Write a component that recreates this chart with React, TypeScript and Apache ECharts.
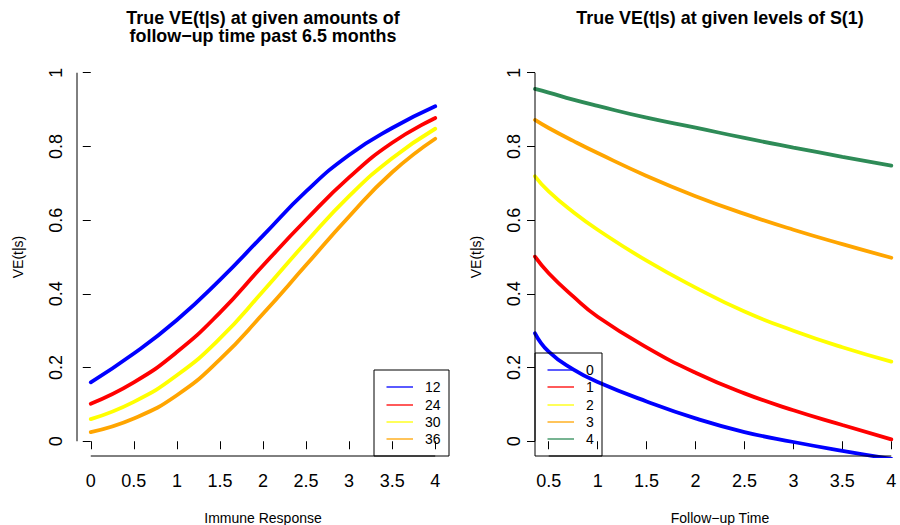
import { useEffect, useRef } from "react";
import * as echarts from "echarts";

const FONT = "'Liberation Sans', Arial, Helvetica, sans-serif";

// Left panel: VE(t|s) against immune response, one curve per follow-up time (months)
const immuneResponse = [0, 0.5, 1, 1.5, 2, 2.5, 3, 3.5, 4];
const followUpLabels = ["12", "24", "30", "36"];
const veFollowUp12 = [0.16, 0.238, 0.329, 0.438, 0.558, 0.678, 0.777, 0.85, 0.909];
const veFollowUp24 = [0.102, 0.16, 0.242, 0.349, 0.477, 0.601, 0.716, 0.81, 0.877];
const veFollowUp30 = [0.06, 0.107, 0.179, 0.279, 0.407, 0.54, 0.665, 0.768, 0.848];
const veFollowUp36 = [0.025, 0.062, 0.125, 0.222, 0.346, 0.478, 0.61, 0.73, 0.821];
const followUpColors = ["#0000FF", "#FF0000", "#FFFF00", "#FFA500"];

// Right panel: VE(t|s) against follow-up time, one curve per level of S(1)
const followUpTime = [0.36, 0.5, 0.75, 1, 1.5, 2, 2.5, 3, 3.5, 4];
const sLevelLabels = ["0", "1", "2", "3", "4"];
const veS0 = [0.293, 0.243, 0.195, 0.161, 0.108, 0.062, 0.025, -0.002, -0.026, -0.048];
const veS1 = [0.501, 0.456, 0.393, 0.338, 0.255, 0.186, 0.13, 0.084, 0.044, 0.005];
const veS2 = [0.719, 0.678, 0.622, 0.574, 0.49, 0.417, 0.352, 0.3, 0.255, 0.216];
const veS3 = [0.872, 0.85, 0.815, 0.782, 0.72, 0.665, 0.617, 0.574, 0.535, 0.498];
const veS4 = [0.956, 0.946, 0.927, 0.91, 0.878, 0.851, 0.823, 0.797, 0.772, 0.748];
const sLevelColors = ["#0000FF", "#FF0000", "#FFFF00", "#FFA500", "#2E8B57"];

// Tick labels
const leftXTicks = [0, 0.5, 1, 1.5, 2, 2.5, 3, 3.5, 4];
const rightXTicks = [0.5, 1, 1.5, 2, 2.5, 3, 3.5, 4];
const yTicks = [0, 0.2, 0.4, 0.6, 0.8, 1];

const leftTitleLines = ["True VE(t|s) at given amounts of", "follow\u2212up time past 6.5 months"];
const rightTitle = "True VE(t|s) at given levels of S(1)";
const leftXName = "Immune Response";
const rightXName = "Follow\u2212up Time";
const yName = "VE(t|s)";

// Plot regions (pixels) and axis ranges, with R-style 4% padding around the data
const GRID_TOP = 58;
const GRID_HEIGHT = 398;
const LEFT_GRID = { left: 77, width: 372 };
const RIGHT_GRID = { left: 535, width: 370 };
const Y_MIN = -0.04;
const Y_MAX = 1.04;
const LEFT_X = { min: -0.16, max: 4.16 };
const RIGHT_X = { min: 0.36, max: 4.14 };

const pairs = (xs: number[], ys: number[]) => xs.map((x, i) => [x, ys[i]]);

function lineSeries(name: string, xs: number[], ys: number[], color: string, idx: number) {
  return {
    type: "line",
    name,
    xAxisIndex: idx,
    yAxisIndex: idx,
    data: pairs(xs, ys),
    showSymbol: false,
    smooth: 0.5,
    clip: true,
    lineStyle: { color, width: 3.8, cap: "round" },
    itemStyle: { color },
  };
}

function xAxisFor(gridIndex: number, min: number, max: number, ticks: number[], name: string) {
  return {
    type: "value",
    gridIndex,
    min,
    max,
    axisLine: { show: false },
    axisTick: { show: true, length: 8, customValues: ticks, lineStyle: { color: "#000", width: 1 } },
    axisLabel: {
      customValues: ticks,
      color: "#000",
      fontFamily: FONT,
      fontSize: 18,
      margin: 16,
      formatter: (v: number) => String(v),
    },
    splitLine: { show: false },
    name,
    nameLocation: "middle",
    nameGap: 55,
    nameTextStyle: { color: "#000", fontFamily: FONT, fontSize: 14 },
  };
}

function yAxisFor(gridIndex: number) {
  return {
    type: "value",
    gridIndex,
    min: Y_MIN,
    max: Y_MAX,
    axisLine: { show: false },
    axisTick: { show: true, length: 8, customValues: yTicks, lineStyle: { color: "#000", width: 1 } },
    axisLabel: {
      customValues: yTicks,
      rotate: 90,
      color: "#000",
      fontFamily: FONT,
      fontSize: 18,
      margin: 12,
      formatter: (v: number) => String(v),
    },
    splitLine: { show: false },
    name: yName,
    nameLocation: "middle",
    nameRotate: 90,
    nameGap: 52,
    nameTextStyle: { color: "#000", fontFamily: FONT, fontSize: 14 },
  };
}

const titleStyle = { fontSize: 17.9, fontWeight: "bold", lineHeight: 18, fontFamily: FONT, color: "#000" };

export default function App() {
  const ref = useRef<HTMLDivElement>(null);

  useEffect(() => {
    const el = ref.current;
    if (!el) return;
    const chart = echarts.init(el, null, { renderer: "svg" });

    const leftCenter = LEFT_GRID.left + LEFT_GRID.width / 2;
    const rightCenter = RIGHT_GRID.left + RIGHT_GRID.width / 2;

    const option = {
      animation: false,
      backgroundColor: "#fff",
      title: [
        ...leftTitleLines.map((text, i) => ({
          text,
          left: leftCenter,
          top: 9 + i * 17.5,
          textAlign: "center",
          padding: 0,
          textStyle: titleStyle,
        })),
        {
          text: rightTitle,
          left: rightCenter,
          top: 9,
          textAlign: "center",
          padding: 0,
          textStyle: titleStyle,
        },
      ],
      grid: [
        {
          left: LEFT_GRID.left,
          width: LEFT_GRID.width,
          top: GRID_TOP,
          height: GRID_HEIGHT,
          outerBoundsMode: "none",
          containLabel: false,
        },
        {
          left: RIGHT_GRID.left,
          width: RIGHT_GRID.width,
          top: GRID_TOP,
          height: GRID_HEIGHT,
          outerBoundsMode: "none",
          containLabel: false,
        },
      ],
      xAxis: [
        xAxisFor(0, LEFT_X.min, LEFT_X.max, leftXTicks, leftXName),
        xAxisFor(1, RIGHT_X.min, RIGHT_X.max, rightXTicks, rightXName),
      ],
      yAxis: [yAxisFor(0), yAxisFor(1)],
      series: [
        lineSeries(followUpLabels[0], immuneResponse, veFollowUp12, followUpColors[0], 0),
        lineSeries(followUpLabels[1], immuneResponse, veFollowUp24, followUpColors[1], 0),
        lineSeries(followUpLabels[2], immuneResponse, veFollowUp30, followUpColors[2], 0),
        lineSeries(followUpLabels[3], immuneResponse, veFollowUp36, followUpColors[3], 0),
        lineSeries(sLevelLabels[0], followUpTime, veS0, sLevelColors[0], 1),
        lineSeries(sLevelLabels[1], followUpTime, veS1, sLevelColors[1], 1),
        lineSeries(sLevelLabels[2], followUpTime, veS2, sLevelColors[2], 1),
        lineSeries(sLevelLabels[3], followUpTime, veS3, sLevelColors[3], 1),
        lineSeries(sLevelLabels[4], followUpTime, veS4, sLevelColors[4], 1),
      ],
    };
    chart.setOption(option as any);

    const px = (g: number, p: number[]) => chart.convertToPixel({ gridIndex: g } as any, p) as number[];
    const axisStroke = { stroke: "#000", lineWidth: 1 };
    const graphics: any[] = [];

    // Axis lines span only from the first to the last tick
    const addAxisLines = (g: number, xMin: number, xTicks: number[]) => {
      const corner = px(g, [xMin, Y_MIN]);
      const y0 = px(g, [xMin, yTicks[0]])[1];
      const y1 = px(g, [xMin, yTicks[yTicks.length - 1]])[1];
      const x0 = px(g, [xTicks[0], Y_MIN])[0];
      const x1 = px(g, [xTicks[xTicks.length - 1], Y_MIN])[0];
      const xl = Math.round(corner[0]);
      const yb = Math.round(corner[1]);
      graphics.push({ type: "line", shape: { x1: xl, y1: y0, x2: xl, y2: y1 }, style: axisStroke, z: 10 });
      graphics.push({ type: "line", shape: { x1: x0, y1: yb, x2: x1, y2: yb }, style: axisStroke, z: 10 });
    };
    addAxisLines(0, LEFT_X.min, leftXTicks);
    addAxisLines(1, RIGHT_X.min, rightXTicks);

    // Legend boxes drawn in the corners of the plot regions
    const ROW = 17.2;
    const PAD = 17;
    const addLegend = (left: number, bottom: number, width: number, labels: string[], colors: string[]) => {
      const height = (labels.length - 1) * ROW + 2 * PAD;
      const top = bottom - height;
      graphics.push({
        type: "rect",
        shape: { x: Math.round(left), y: Math.round(top), width: Math.round(width), height: Math.round(height) },
        style: { fill: "none", stroke: "#000", lineWidth: 1 },
        z: 20,
      });
      labels.forEach((label, i) => {
        const cy = Math.round(top + PAD + i * ROW);
        graphics.push({
          type: "line",
          shape: { x1: left + 12.5, y1: cy, x2: left + 39, y2: cy },
          style: { stroke: colors[i], lineWidth: 1.3 },
          z: 20,
        });
        graphics.push({
          type: "text",
          x: left + 51,
          y: cy,
          style: {
            text: label,
            fill: "#000",
            fontFamily: FONT,
            fontSize: 14,
            textAlign: "left",
            textVerticalAlign: "middle",
          },
          z: 20,
        });
      });
    };
    const leftBR = px(0, [LEFT_X.max, Y_MIN]);
    addLegend(leftBR[0] - 75, leftBR[1], 75, followUpLabels, followUpColors);
    const rightBL = px(1, [RIGHT_X.min, Y_MIN]);
    addLegend(rightBL[0], rightBL[1], 67, sLevelLabels, sLevelColors);

    chart.setOption({ graphic: graphics } as any);

    return () => chart.dispose();
  }, []);

  return (
    <div
      ref={ref}
      style={{ position: "absolute", left: 0, top: 0, width: 900, height: 525, background: "#fff" }}
    />
  );
}
